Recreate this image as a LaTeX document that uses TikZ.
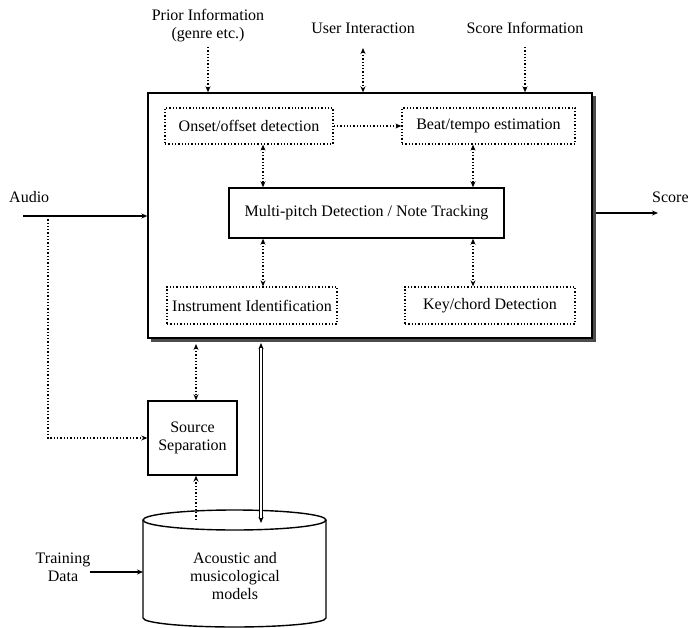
\documentclass[tikz,border=0pt]{standalone}
\usepackage{fontspec}
\setmainfont{Liberation Serif}
\usetikzlibrary{arrows.meta}
\begin{document}
\begin{tikzpicture}[x=1pt,y=-1pt,
  font=\fontsize{16}{18}\selectfont,
  tip/.style={-{Stealth[length=6pt,width=5pt]}},
  ttip/.style={{Stealth[length=6pt,width=5pt]}-{Stealth[length=6pt,width=5pt]}},
  solidbox/.style={draw,line width=1.4pt,inner sep=0pt,fill=white},
  dotbox/.style={draw,dotted,line width=1.3pt,inner sep=0pt},
  dotline/.style={dotted,line width=1.3pt},
  solidline/.style={line width=1.1pt},
  lbl/.style={inner sep=0pt,align=center}]
\useasboundingbox (0,0) rectangle (690,628);

% main box with shadow
\fill[black!70] (151,96) rectangle (595.5,341.5);
\node[solidbox,minimum width=444pt,minimum height=245pt] (main) at (370,215.5) {};

% inner boxes
\node[dotbox,minimum width=168pt,minimum height=36pt] (onset) at (249,126) {Onset/offset detection};
\node[dotbox,minimum width=173pt,minimum height=36pt] (beat) at (488.5,126) {Beat/tempo estimation};
\node[solidbox,minimum width=275pt,minimum height=50pt] (mp) at (366.5,213) {Multi-pitch Detection / Note Tracking};
\node[dotbox,minimum width=170pt,minimum height=37pt] (inst) at (252,305.5) {Instrument Identification};
\node[dotbox,minimum width=170pt,minimum height=37pt] (key) at (490,305.5) {Key/chord Detection};

\draw[dotline,tip] (onset.east) -- (beat.west);
\draw[dotline,ttip] (onset.south -| 263,0) -- (mp.north -| 263,0);
\draw[dotline,ttip] (beat.south -| 473,0) -- (mp.north -| 473,0);
\draw[dotline,ttip] (mp.south -| 263,0) -- (inst.north -| 263,0);
\draw[dotline,ttip] (mp.south -| 473,0) -- (key.north -| 473,0);

% top inputs
\node[lbl] (prior) at (208,26) {Prior Information\\(genre etc.)};
\node[lbl] (user) at (363,28) {User Interaction};
\node[lbl] (scoreinfo) at (525,28) {Score Information};
\coordinate (priorend) at (208,47);
\coordinate (userend) at (363,48);
\coordinate (scoreend) at (525,47);
\draw[dotline,tip] (priorend) -- (main.north -| priorend);
\draw[dotline,ttip] (userend) -- (main.north -| userend);
\draw[dotline,tip] (scoreend) -- (main.north -| scoreend);

% audio
\node[lbl,anchor=west] (audio) at (9,197) {Audio};
\coordinate (audiostart) at (23,216);
\coordinate (branch) at (48,216);
\draw[solidline,tip] (audiostart) -- (main.west |- audiostart);

% score out
\node[lbl,anchor=west] (score) at (652,197) {Score};
\coordinate (scoreout) at (658,213);
\draw[solidline,tip] (595.5,213) -- (scoreout);

% source separation
\node[solidbox,minimum width=89pt,minimum height=74pt,align=center] (ss) at (192.5,438) {Source\\Separation};
\draw[dotline,tip] (branch) |- (ss.west);
\draw[dotline,ttip] (196,344) -- (ss.north -| 196,0);

% cylinder
\fill[white] (143,520) -- (143,618) arc[start angle=180,end angle=0,x radius=91.5,y radius=9] -- (326,520) -- cycle;
\draw[line width=1.4pt] (143,520) -- (143,618) arc[start angle=180,end angle=0,x radius=91.5,y radius=9] -- (326,520);
\draw[line width=1.4pt,fill=white] (234.5,520) ellipse[x radius=91.5,y radius=10];
\coordinate (cyltop) at (196,520);
\coordinate (cyltop2) at (261,523);
\coordinate (mainbot) at (261,343);
\node[lbl] (models) at (235,576) {Acoustic and\\musicological\\models};
\coordinate (cylleft) at (143,572);
\draw[dotline,tip] (cyltop) -- (ss.south -| cyltop);

% double arrow
\draw[solidline,tip] ([yshift=-8pt]mainbot) -- (mainbot);
\draw[solidline,tip] ([yshift=8pt]cyltop2) -- (cyltop2);
\draw[line width=3.4pt,shorten <=5pt,shorten >=5pt] (mainbot) -- (cyltop2);
\draw[white,line width=1.4pt,shorten <=5pt,shorten >=5pt] (mainbot) -- (cyltop2);

% training data
\node[lbl] (train) at (63,567) {Training\\Data};
\coordinate (trainstart) at (90,572);
\draw[solidline,tip] (trainstart) -- (cylleft);
\end{tikzpicture}
\end{document}
